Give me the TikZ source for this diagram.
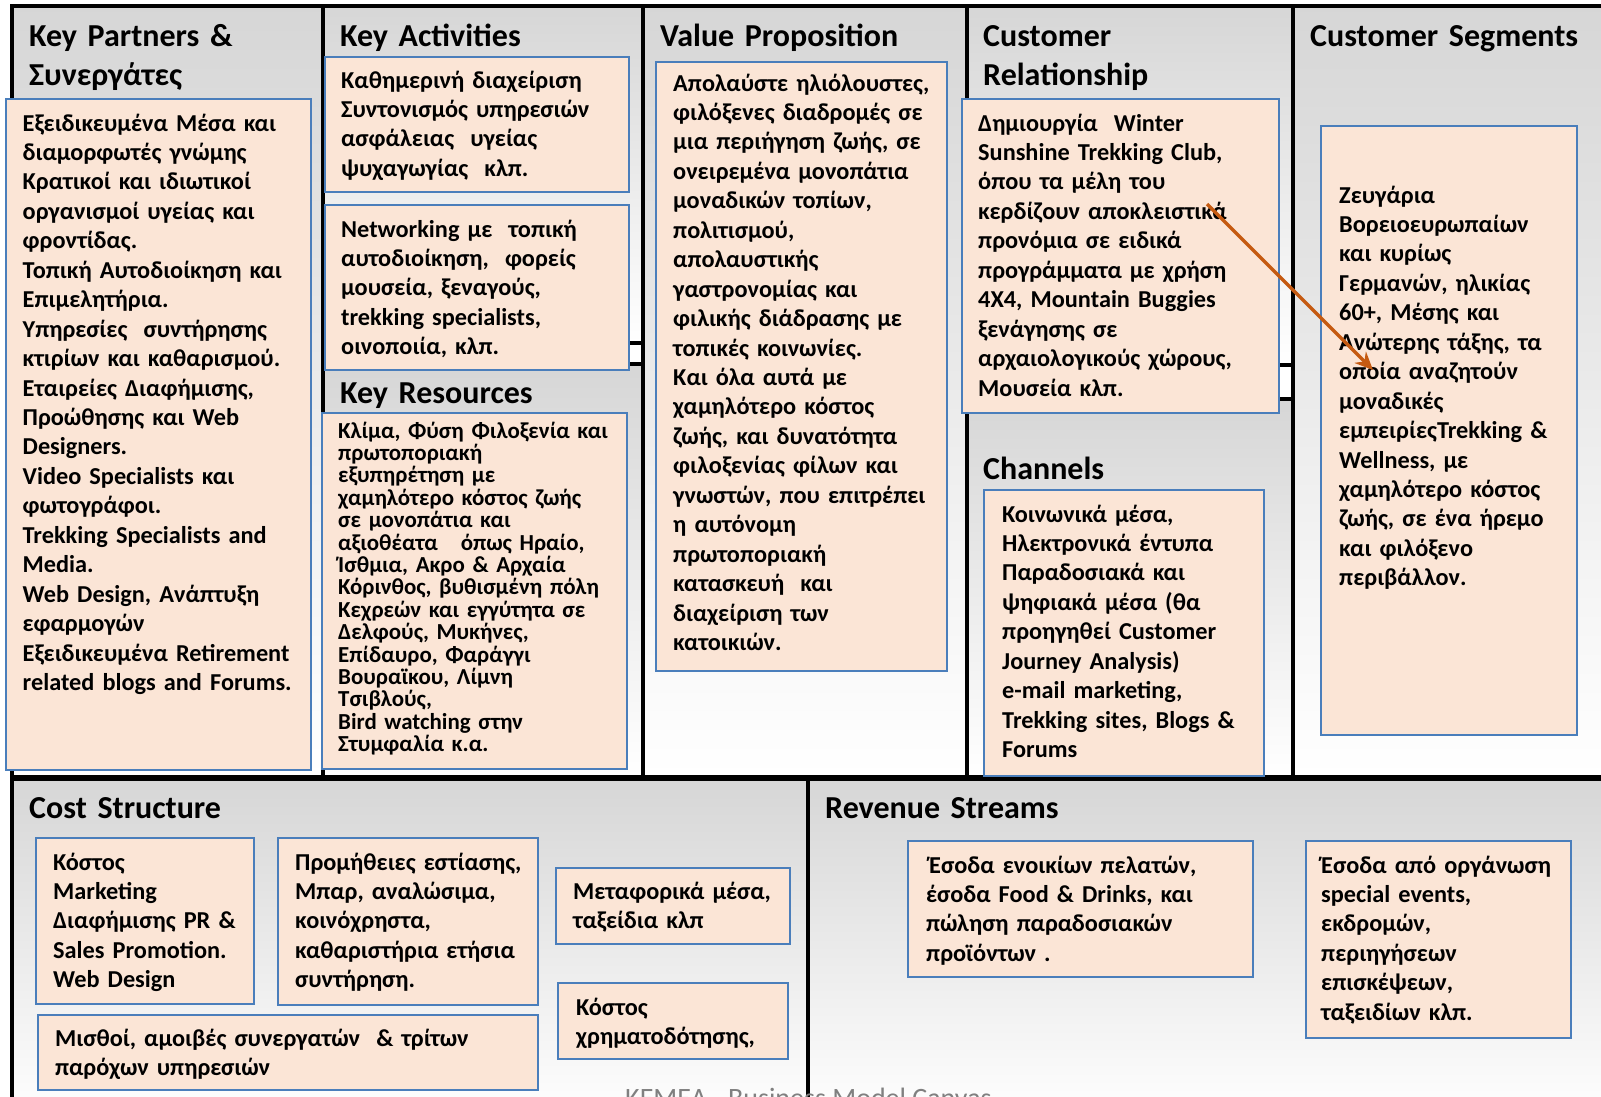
\documentclass[tikz,border=0pt]{standalone}
\usepackage{fontspec}
\setmainfont{Carlito}
\usetikzlibrary{arrows.meta}
\definecolor{peach}{RGB}{251,229,214}
\definecolor{boxblue}{RGB}{74,126,187}
\definecolor{arrowc}{RGB}{197,90,17}
\tikzset{
  cell/.style={draw=black, line width=3.5pt, top color=black!16, bottom color=white},
  pbox/.style={draw=boxblue, fill=peach, line width=2.2pt, anchor=north west, inner sep=0pt, outer sep=0pt},
  head/.style={anchor=base west, inner sep=0pt, align=left, text width=600pt, font=\fontsize{32}{39}\selectfont\bfseries},
  body/.style={anchor=base west, inner sep=0pt, align=left, text width=600pt, font=\fontsize{24.3}{29.45}\selectfont\bfseries},
  bodys/.style={anchor=base west, inner sep=0pt, align=left, text width=600pt, font=\fontsize{22.9}{22.4}\selectfont\bfseries},
}
\newcommand\pbx[5]{\node[pbox, minimum width={(#4-#2)*1pt}, minimum height={(#5-#3)*1pt}] (#1) at (#2,#3) {};}
\begin{document}
\begin{tikzpicture}[x=1pt,y=-1pt]
\useasboundingbox (0,0) rectangle (1601,1096);
\clip (0,0) rectangle (1601,1096);
\fill[white] (0,0) rectangle (1601,1096);
% cells
\path[cell] (12,6) rectangle (323,777);
\path[cell] (323,6) rectangle (643,343);
\path[cell] (323,364) rectangle (643,777);
\path[cell] (643,6) rectangle (967,777);
\path[cell] (967,6) rectangle (1293,365);
\path[cell] (967,399) rectangle (1293,777);
\path[cell] (1293,6) rectangle (1620,777);
\path[cell] (12,779) rectangle (808,1120);
\path[cell] (808,779) rectangle (1620,1120);
% boxes
\pbx{bkp}{6}{99}{311}{770}
\pbx{bka}{325}{57}{629}{192}
\pbx{bkb}{325}{205}{629}{370}
\pbx{bkr}{322}{413}{627}{769}
\pbx{bvp}{656}{62}{947}{671}
\pbx{bcr}{962}{99}{1279}{413}
\pbx{bch}{984}{490}{1264}{776}
\pbx{bcs}{1321}{126}{1577}{735}
\pbx{bc1}{36}{838}{254}{1004}
\pbx{bc2}{278}{838}{538}{1005}
\pbx{bc3}{556}{868}{790}{944}
\pbx{bc4}{558}{983}{788}{1059}
\pbx{bc5}{38}{1015}{538}{1090}
\pbx{br1}{908}{841}{1253}{977}
\pbx{br2}{1306}{841}{1571}{1038}
% headings
\node[head] (hkp) at (29,46) {Key Partners \&\\Συνεργάτες};
\node[head] (hka) at (340,46) {Key Activities};
\node[head] (hvp) at (660,46) {Value Proposition};
\node[head] (hcr) at (983,46) {Customer\\Relationship};
\node[head] (hcs) at (1310,46) {Customer Segments};
\node[head] (hkr) at (340,403) {Key Resources};
\node[head] (hch) at (983,479) {Channels};
\node[head] (hcost) at (29,818) {Cost Structure};
\node[head] (hrev) at (825,818) {Revenue Streams};
% texts
\node[body] (tkp) at (22.5,131) {Εξειδικευμένα Μέσα και\\
διαμορφωτές γνώμης\\
Κρατικοί και ιδιωτικοί\\
οργανισμοί υγείας και\\
φροντίδας.\\
Τοπική Αυτοδιοίκηση και\\
Επιμελητήρια.\\
Υπηρεσίες\ \ συντήρησης\\
κτιρίων και καθαρισμού.\\
Εταιρείες Διαφήμισης,\\
Προώθησης και Web\\
Designers.\\
Video Specialists και\\
φωτογράφοι.\\
Trekking Specialists and\\
Media.\\
Web Design, Ανάπτυξη\\
εφαρμογών\\
Εξειδικευμένα Retirement\\
related blogs and Forums.};
\node[body] (tka) at (341,88) {Καθημερινή διαχείριση\\
Συντονισμός υπηρεσιών\\
ασφάλειας\ \ υγείας\\
ψυχαγωγίας\ \ κλπ.};
\node[body] (tkb) at (341,237) {Networking με\ \ τοπική\\
αυτοδιοίκηση,\ \ φορείς\\
μουσεία, ξεναγούς,\\
trekking specialists,\\
οινοποιία, κλπ.};
\node[bodys] (tkr) at (338,438) {Κλίμα, Φύση Φιλοξενία και\\
πρωτοποριακή\\
εξυπηρέτηση με\\
χαμηλότερο κόστος ζωής\\
σε μονοπάτια και\\
αξιοθέατα\ \ \ όπως Ηραίο,\\
Ίσθμια, Ακρο \& Αρχαία\\
Κόρινθος, βυθισμένη πόλη\\
Κεχρεών και εγγύτητα σε\\
Δελφούς, Μυκήνες,\\
Επίδαυρο, Φαράγγι\\
Βουραϊκου, Λίμνη\\
Τσιβλούς,\\
Bird watching στην\\
Στυμφαλία κ.α.};
\node[body] (tvp) at (673,91) {Απολαύστε ηλιόλουστες,\\
φιλόξενες διαδρομές σε\\
μια περιήγηση ζωής, σε\\
ονειρεμένα μονοπάτια\\
μοναδικών τοπίων,\\
πολιτισμού,\\
απολαυστικής\\
γαστρονομίας και\\
φιλικής διάδρασης με\\
τοπικές κοινωνίες.\\
Και όλα αυτά με\\
χαμηλότερο κόστος\\
ζωής, και δυνατότητα\\
φιλοξενίας φίλων και\\
γνωστών, που επιτρέπει\\
η αυτόνομη\\
πρωτοποριακή\\
κατασκευή\ \ και\\
διαχείριση των\\
κατοικιών.};
\node[body] (tcr) at (978,131) {Δημιουργία\ \ Winter\\
Sunshine Trekking Club,\\
όπου τα μέλη του\\
κερδίζουν αποκλειστικά\\
προνόμια σε ειδικά\\
προγράμματα με χρήση\\
4X4, Mountain Buggies\\
ξενάγησης σε\\
αρχαιολογικούς χώρους,\\
Μουσεία κλπ.};
\node[body] (tch) at (1002,522) {Κοινωνικά μέσα,\\
Ηλεκτρονικά έντυπα\\
Παραδοσιακά και\\
ψηφιακά μέσα (θα\\
προηγηθεί Customer\\
Journey Analysis)\\
e-mail marketing,\\
Trekking sites, Blogs \&\\
Forums};
\node[body] (tcs) at (1339,203) {Ζευγάρια\\
Βορειοευρωπαίων\\
και κυρίως\\
Γερμανών, ηλικίας\\
60+, Μέσης και\\
Ανώτερης τάξης, τα\\
οποία αναζητούν\\
μοναδικές\\
εμπειρίεςTrekking \&\\
Wellness, με\\
χαμηλότερο κόστος\\
ζωής, σε ένα ήρεμο\\
και φιλόξενο\\
περιβάλλον.};
\node[body] (tc1) at (53,870) {Κόστος\\
Marketing\\
Διαφήμισης PR \&\\
Sales Promotion.\\
Web Design};
\node[body] (tc2) at (295,870) {Προμήθειες εστίασης,\\
Μπαρ, αναλώσιμα,\\
κοινόχρηστα,\\
καθαριστήρια ετήσια\\
συντήρηση.};
\node[body] (tc3) at (573,899) {Μεταφορικά μέσα,\\
ταξείδια κλπ};
\node[body] (tc4) at (576,1015) {Κόστος\\
χρηματοδότησης,};
\node[body] (tc5) at (55,1046) {Μισθοί, αμοιβές συνεργατών\ \ \& τρίτων\\
παρόχων υπηρεσιών};
\node[body] (tr1) at (926,873) {\hspace*{3pt}Έσοδα ενοικίων πελατών,\\
έσοδα Food \& Drinks, και\\
πώληση παραδοσιακών\\
προϊόντων .};
\node[body] (tr2) at (1321,873) {Έσοδα από οργάνωση\\
special events,\\
εκδρομών,\\
περιηγήσεων\\
επισκέψεων,\\
ταξειδίων κλπ.};
% footer
\node[anchor=base west, inner sep=0pt, text=black!50, font=\fontsize{28}{32}\selectfont] (foot) at (625,1107) {KEMEA - Business Model Canvas};
% arrow
\coordinate (arS) at (1207,204);
\coordinate (arE) at (1373,370);
\draw[arrowc, line width=3.5pt, -{Stealth[length=18pt,width=16pt]}] (arS) -- (arE);
\end{tikzpicture}
\end{document}
